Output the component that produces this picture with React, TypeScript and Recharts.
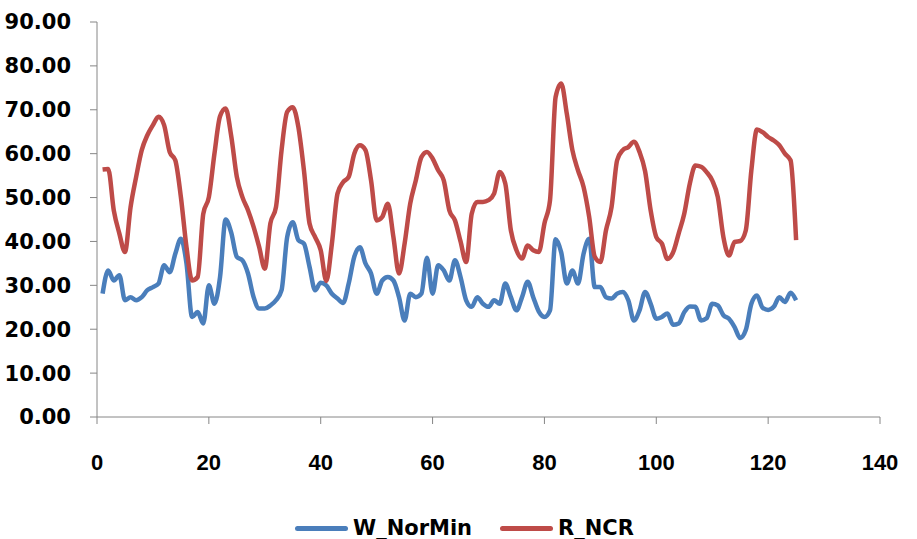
import { LineChart, Line, XAxis, YAxis, Legend } from "recharts";

// W_NorMin series, one value per step (x = 1..125)
const wNorMin = [
  28.1, 33.4, 31.1, 32.3, 26.6, 27.3, 26.6, 27.3, 28.9, 29.6,
  30.4, 34.6, 33.0, 37.2, 40.6, 35.0, 22.8, 23.9, 21.3, 30.0,
  25.8, 31.9, 45.0, 42.0, 36.5, 35.7, 32.7, 27.3, 24.7, 24.7,
  25.4, 26.6, 28.9, 41.0, 44.4, 40.3, 39.5, 34.2, 28.9, 30.6,
  30.0, 28.1, 27.0, 26.0, 30.4, 36.5, 38.7, 35.0, 32.7, 28.1,
  31.1, 31.9, 31.1, 27.3, 22.0, 28.1, 27.3, 28.1, 36.3, 28.1,
  34.6, 33.4, 31.1, 35.7, 31.9, 26.6, 25.1, 27.3, 25.8, 25.1,
  26.6, 25.8, 30.4, 27.3, 24.3, 27.3, 30.8, 27.3, 24.0, 22.8,
  24.3, 40.5, 37.5, 30.4, 33.4, 30.4, 37.2, 40.6, 29.6, 29.6,
  27.3, 27.0, 28.1, 28.5, 26.6, 22.0, 24.3, 28.5, 25.8, 22.4,
  22.8, 23.6, 21.0, 21.3, 23.9, 25.2, 25.1, 22.0, 22.5, 25.8,
  25.4, 23.2, 22.4, 20.5, 18.0, 19.8, 25.8, 27.7, 24.9, 24.4,
  25.1, 27.3, 26.2, 28.3, 26.6,
];

// R_NCR series
const rNcr = [
  56.4, 56.5, 47.1, 41.8, 37.6, 47.8, 54.7, 60.8, 64.2, 66.5,
  68.4, 66.5, 60.4, 58.5, 50.1, 38.7, 31.1, 31.9, 46.3, 50.1,
  60.0, 68.5, 70.3, 64.0, 54.7, 50.1, 47.1, 43.3, 38.7, 33.8,
  44.1, 47.8, 60.8, 69.5, 70.6, 66.1, 56.2, 44.1, 41.0, 38.0,
  31.0, 39.5, 50.9, 53.5, 54.7, 60.0, 61.9, 60.8, 53.9, 44.8,
  45.6, 48.6, 41.0, 32.7, 39.5, 48.6, 53.9, 59.2, 60.4, 58.9,
  56.2, 53.9, 47.1, 44.8, 40.0, 35.3, 46.3, 49.0, 49.0, 49.4,
  50.9, 55.8, 53.2, 42.5, 38.0, 36.1, 39.1, 38.0, 37.6, 44.1,
  49.4, 72.9, 76.0, 69.1, 60.8, 56.2, 52.4, 45.6, 36.5, 35.3,
  42.5, 47.8, 58.5, 60.8, 61.5, 62.7, 60.4, 56.0, 47.0, 41.0,
  39.5, 36.0, 37.5, 41.8, 46.3, 53.2, 57.3, 57.0, 55.8, 53.9,
  50.1, 41.0, 36.8, 39.9, 40.1, 42.5, 56.2, 65.5, 64.9, 63.8,
  63.0, 61.9, 60.0, 58.5, 40.3,
];

const seriesOrder = ["W_NorMin", "R_NCR"];
const xTicks = [0, 20, 40, 60, 80, 100, 120, 140];
const yTicks = [0, 10, 20, 30, 40, 50, 60, 70, 80, 90];

const BLUE = "#4A7EBB";
const RED = "#BE4B48";
const AXIS = "#868686";

const chartData = wNorMin.map((w, i) => ({ x: i + 1, W_NorMin: w, R_NCR: rNcr[i] }));

function LegendContent({ payload }: any) {
  const items = [...(payload ?? [])].sort(
    (a: any, b: any) => seriesOrder.indexOf(a.value) - seriesOrder.indexOf(b.value)
  );
  return (
    <div style={{ height: 52, display: "flex", alignItems: "center", paddingTop: 30, paddingLeft: 295, boxSizing: "border-box" }}>
      {items.map((p: any, i: number) => (
        <div key={p.value} style={{ display: "flex", alignItems: "center", marginLeft: i ? 28 : 0 }}>
          <div style={{ width: 53, height: 5, borderRadius: 3, background: p.color }} />
          <span style={{ marginLeft: 5, fontFamily: "DejaVu Sans", fontWeight: "bold", fontSize: 21, lineHeight: "22px", color: "#000" }}>
            {p.value}
          </span>
        </div>
      ))}
    </div>
  );
}

export default function App() {
  return (
    <>
      {/* drop the default body margin so the chart sits at the page origin */}
      <style>{"body { margin: 0; }"}</style>
      <LineChart width={917} height={539} data={chartData} margin={{ top: 22, right: 37, bottom: 0, left: 0 }}>
        <XAxis
          dataKey="x"
          type="number"
          domain={[0, 140]}
          ticks={xTicks}
          height={70}
          stroke={AXIS}
          tickSize={7}
          tickMargin={30}
          tick={{ fill: "#000", fontFamily: "Liberation Sans", fontWeight: "bold", fontSize: 22 }}
        />
        <YAxis
          domain={[0, 90]}
          ticks={yTicks}
          width={97}
          stroke={AXIS}
          tickSize={7}
          tickMargin={19}
          tickFormatter={(v: number) => v.toFixed(2)}
          tick={{ fill: "#000", fontFamily: "DejaVu Sans", fontWeight: "bold", fontSize: 21 }}
        />
        <Legend verticalAlign="bottom" content={<LegendContent />} />
        <Line type="monotone" dataKey="W_NorMin" stroke={BLUE} strokeWidth={4.5} dot={false} isAnimationActive={false} />
        <Line type="monotone" dataKey="R_NCR" stroke={RED} strokeWidth={4.5} dot={false} isAnimationActive={false} />
      </LineChart>
    </>
  );
}
